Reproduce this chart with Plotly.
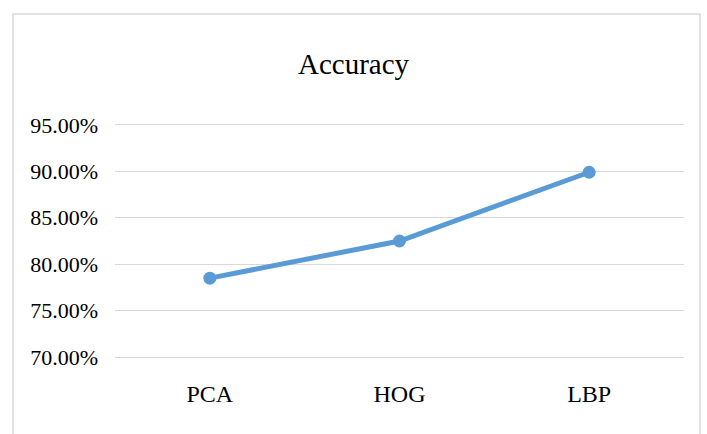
import plotly.graph_objects as go

categories = ["PCA", "HOG", "LBP"]
accuracy = [0.785, 0.825, 0.899]
y_ticks = [0.70, 0.75, 0.80, 0.85, 0.90, 0.95]

W, H = 707, 434
ml, mr, mt, mb = 115, 23, 123, 75
pw, ph = W - ml - mr, H - mt - mb
y_lo, y_hi = 0.698, 0.952

def px_x(x):
    return (x - ml) / pw

def px_y(y):
    return (H - mb - y) / ph

fig = go.Figure()
fig.add_trace(go.Scatter(
    x=categories, y=accuracy, mode="lines+markers",
    line=dict(color="#5B9BD5", width=5),
    marker=dict(color="#5B9BD5", size=13),
    showlegend=False,
))

fig.update_layout(
    width=W, height=H,
    margin=dict(l=ml, r=mr, t=mt, b=mb),
    paper_bgcolor="white", plot_bgcolor="white",
    font=dict(family="Liberation Serif, Times New Roman, serif", color="#000000"),
    title=dict(text="Accuracy", x=0.5, xanchor="center", y=1 - 64 / H, yanchor="middle",
               font=dict(size=29, family="Liberation Serif, serif", color="#000000")),
    xaxis=dict(
        type="category", showgrid=False, zeroline=False, showline=False,
        ticks="", tickfont=dict(size=24), ticklabelstandoff=18,
        range=[-0.5, 2.5],
    ),
    yaxis=dict(
        range=[y_lo, y_hi], tickvals=y_ticks, tickformat=".2%",
        showgrid=True, gridcolor="#D9D9D9", gridwidth=1.3,
        zeroline=False, showline=False, ticks="",
        tickfont=dict(size=22), ticklabelstandoff=16,
    ),
    shapes=[dict(
        type="rect", xref="paper", yref="paper",
        x0=px_x(13), x1=px_x(700), y0=px_y(445), y1=px_y(14),
        line=dict(color="#D9D9D9", width=1.5), fillcolor="rgba(0,0,0,0)", layer="below",
    )],
)

fig.write_html("out.html", config={"displayModeBar": False},
               post_script="document.body.style.margin='0';")
